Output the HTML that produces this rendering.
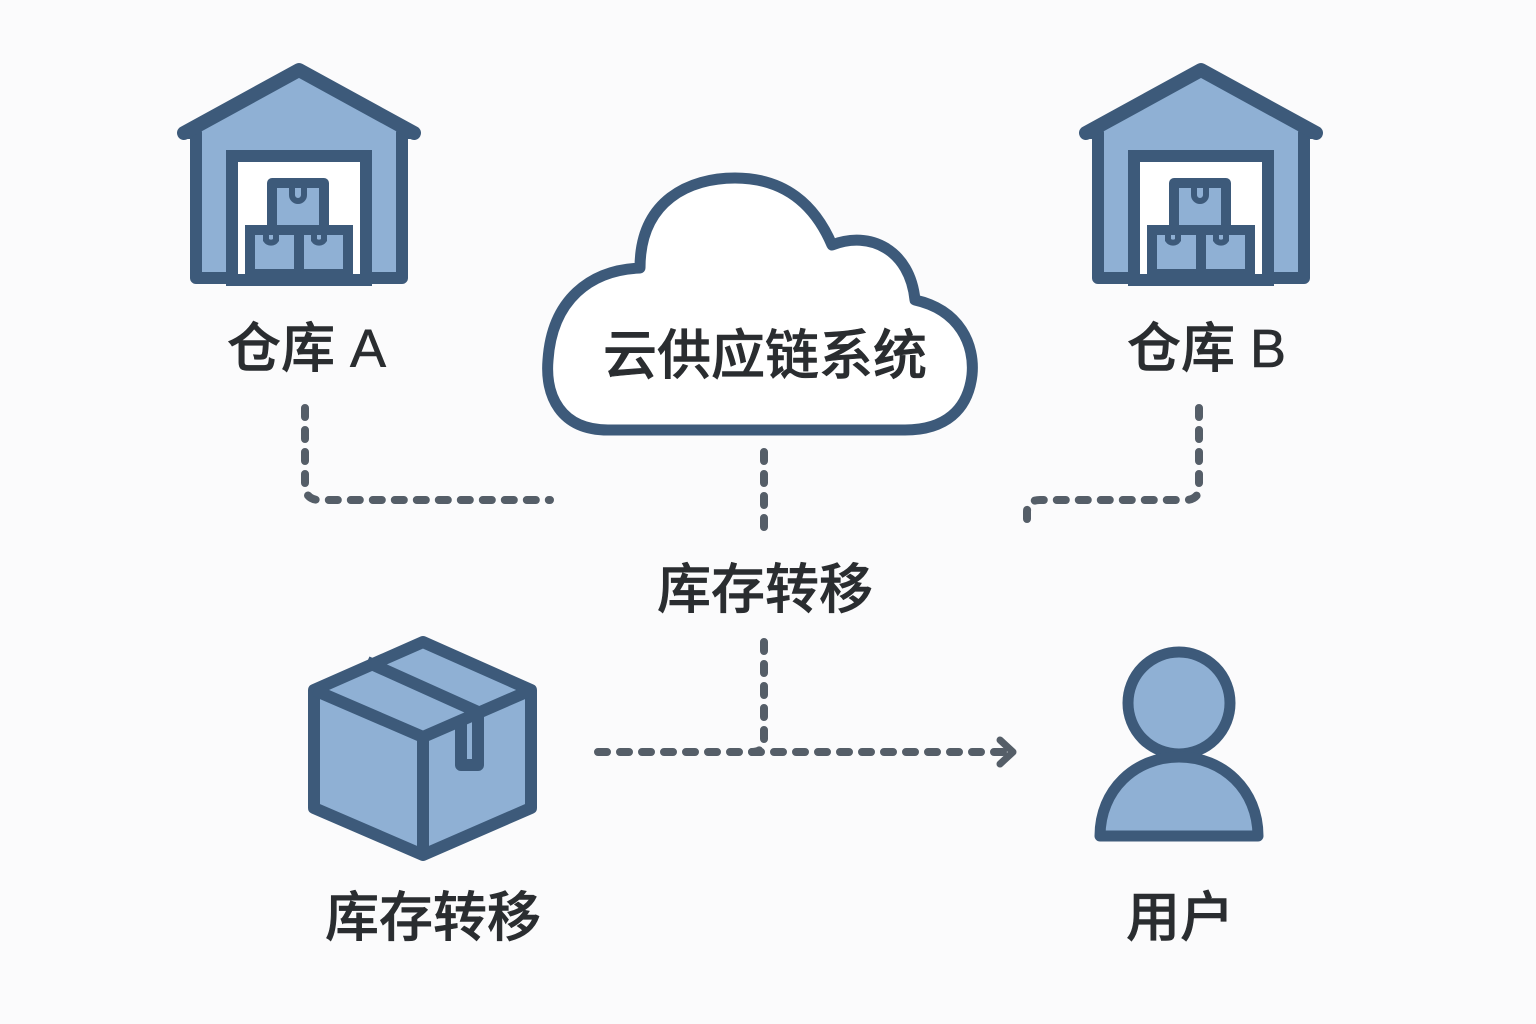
<!DOCTYPE html>
<html><head><meta charset="utf-8"><style>
html,body{margin:0;padding:0;background:#fbfbfc;}
svg{display:block}
text{font-family:"Liberation Sans","Noto Sans CJK SC",sans-serif;fill:#2a2d30;font-size:54px;font-weight:500;stroke:#2a2d30;stroke-width:0.6px;}
</style></head><body>
<svg width="1536" height="1024" viewBox="0 0 1536 1024" xmlns="http://www.w3.org/2000/svg">
<defs>
<g id="wh">
 <path d="M184 133 L299 70 L414 133 L402 133 L402 278 L196 278 L196 133 Z" fill="#8fb0d4" stroke="#3d5a7a" stroke-width="12" stroke-linejoin="round"/>
 <path d="M184 133 L299 70 L414 133" fill="none" stroke="#3d5a7a" stroke-width="14" stroke-linecap="round" stroke-linejoin="round"/>
 <rect x="232" y="156" width="134" height="124" fill="#fff" stroke="#3d5a7a" stroke-width="12"/>
 <rect x="272" y="183" width="52" height="48" fill="#8fb0d4" stroke="#3d5a7a" stroke-width="10" stroke-linejoin="round"/>
 <rect x="250" y="230" width="49" height="44" fill="#8fb0d4" stroke="#3d5a7a" stroke-width="10"/>
 <rect x="299" y="230" width="49" height="44" fill="#8fb0d4" stroke="#3d5a7a" stroke-width="10"/>
 <path d="M292 188 v7 a6 6 0 0 0 12 0 v-7 M266 235 v5 a6 6 0 0 0 10 0 v-5 M314 235 v5 a6 6 0 0 0 10 0 v-5" fill="none" stroke="#3d5a7a" stroke-width="6"/>
</g>
</defs>
<use href="#wh"/>
<use href="#wh" x="902"/>
<path d="M608 430 C560 430 545 395 548 360 C552 300 590 270 640 268 C640 200 690 178 735 178 C785 178 815 205 832 245 C870 230 910 250 915 300 C960 310 975 345 972 375 C968 410 945 430 905 430 Z" fill="#fff" stroke="#3d5a7a" stroke-width="11" stroke-linejoin="round"/>
<text x="765" y="374" text-anchor="middle" font-size="52">云供应链系统</text>
<text x="227" y="367">仓库 A</text>
<text x="1127" y="367">仓库 B</text>
<text x="765" y="608" text-anchor="middle">库存转移</text>
<text x="433" y="936" text-anchor="middle">库存转移</text>
<text x="1180" y="936" text-anchor="middle">用户</text>
<g stroke="#3d5a7a" stroke-width="12" stroke-linejoin="round" fill="#8fb0d4">
 <path d="M423 642 L531 690 L531 808 L423 855 L314 808 L314 690 Z"/>
 <path d="M314 690 L423 737 L531 690 M423 737 L423 855" fill="none"/>
 <path d="M367 662 L478 712 L478 765 L461 765 L461 720" fill="none"/>
</g>
<g stroke="#3d5a7a" stroke-width="11" fill="#8fb0d4">
 <circle cx="1179" cy="703" r="51"/>
 <path d="M1100 836 C1100 790 1135 757 1179 757 C1223 757 1258 790 1258 836 Z" stroke-linejoin="round"/>
</g>
<g fill="none" stroke="#555e68" stroke-width="8" stroke-linecap="round" stroke-dasharray="9 13">
 <path d="M305 408 L305 485 Q305 500 320 500 L550 500"/>
 <path d="M1199 408 L1199 487 Q1199 500 1185 500 L1040 500 Q1027 500 1027 512 L1027 525"/>
 <path d="M764 452 L764 540"/>
 <path d="M764 642 L764 740 Q764 752 752 752"/>
 <path d="M598 752 L1005 752"/>
</g>
<path d="M1000 740 L1013 752 L1000 764" fill="none" stroke="#555e68" stroke-width="7" stroke-linecap="round" stroke-linejoin="round"/>
</svg>
</body></html>
